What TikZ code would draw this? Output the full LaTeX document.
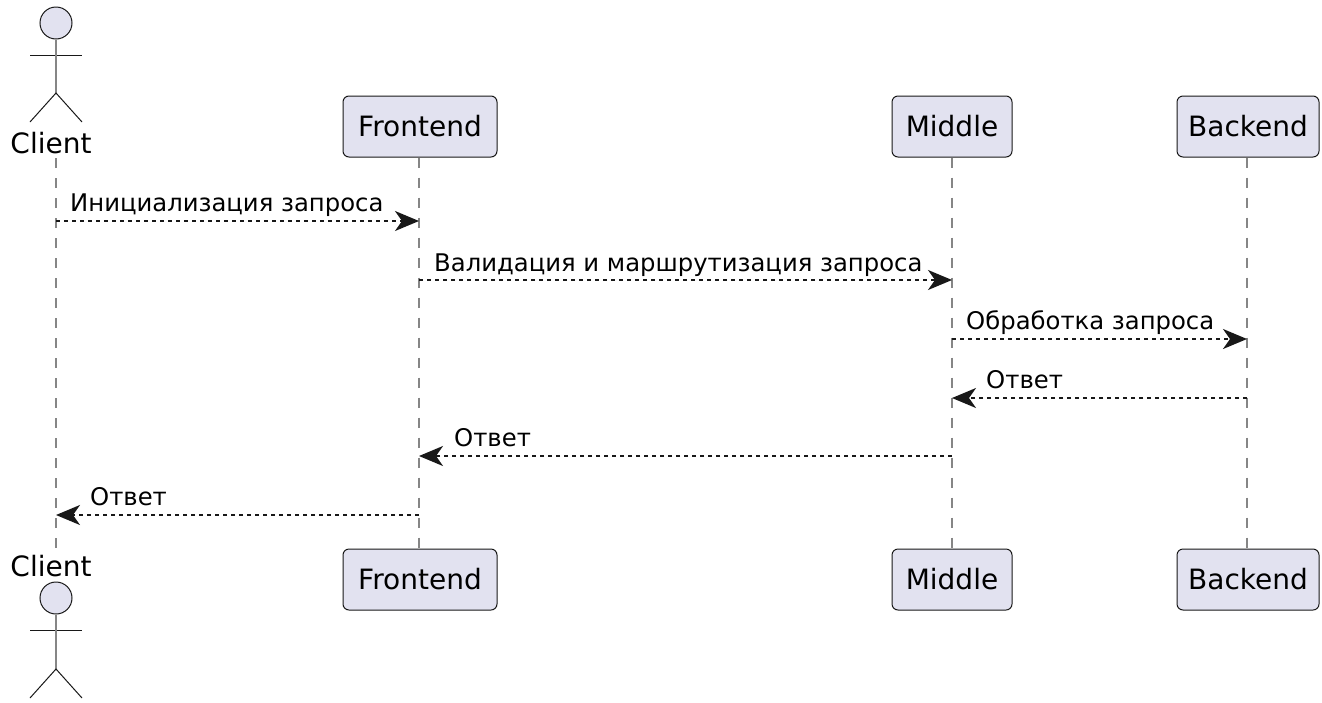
\documentclass[tikz,border=0pt]{standalone}
\usepackage{fontspec}
\setmainfont{DejaVu Sans}
\usetikzlibrary{arrows.meta}
\definecolor{partfill}{HTML}{E2E2F0}
\definecolor{ink}{HTML}{181818}
\definecolor{lifegray}{HTML}{868686}
\tikzset{
  pbox/.style={draw=ink,line width=1pt,fill=partfill,rounded corners=6pt,minimum height=61pt,inner sep=0pt,font=\fontsize{28}{30}\selectfont,text=black},
  actorname/.style={anchor=base,inner sep=0pt,font=\fontsize{28}{30}\selectfont,text=black},
  lifeline/.style={draw=lifegray,line width=2pt,dash pattern=on 10pt off 10pt},
  msg/.style={draw=ink,line width=2pt,dash pattern=on 4pt off 4pt,-{Stealth[length=24pt,width=20pt,inset=7pt,fill=ink]}},
  msglabel/.style={anchor=base west,inner sep=0pt,font=\fontsize{24.3}{28}\selectfont,text=black},
  actorhead/.style={circle,draw=ink,line width=1pt,fill=partfill,minimum size=32pt,inner sep=0pt},
  limb/.style={draw=ink,line width=1pt},
  spine/.style={draw=lifegray,line width=2pt}
}
\begin{document}
\begin{tikzpicture}[x=1pt,y=-1pt]
\useasboundingbox (0,0) rectangle (1322,702);
% lifeline anchors for the client
\coordinate (ctop) at (56,158);
\coordinate (cbot) at (56,548);
% participants
\node[pbox,minimum width=154pt] (ftop) at (420,126.5) {Frontend};
\node[pbox,minimum width=120pt] (mtop) at (952,126.5) {Middle};
\node[pbox,minimum width=142pt] (btop) at (1248,126.5) {Backend};
\node[pbox,minimum width=154pt] (fbot) at (420,579.5) {Frontend};
\node[pbox,minimum width=120pt] (mbot) at (952,579.5) {Middle};
\node[pbox,minimum width=142pt] (bbot) at (1248,579.5) {Backend};
% lifelines
\draw[lifeline] (ctop) -- (cbot);
\draw[lifeline] ([xshift=-1pt]ftop.south) -- ([xshift=-1pt]fbot.north);
\draw[lifeline] (mtop.south) -- (mbot.north);
\draw[lifeline] ([xshift=-1pt]btop.south) -- ([xshift=-1pt]bbot.north);
% actors
\node[actorhead] (headtop) at (56,23) {};
\draw[limb] (30,55) -- (82,55);
\draw[spine] (headtop.south) -- (56,93);
\draw[limb] (30,122) -- (56,93) -- (82,122);
\node[actorname] (nametop) at (51,153) {Client};
\node[actorhead] (headbot) at (56,598) {};
\draw[limb] (30,630) -- (82,630);
\draw[spine] (headbot.south) -- (56,669);
\draw[limb] (30,698) -- (56,669) -- (82,698);
\node[actorname] (namebot) at (51,576) {Client};
% message end points on the lifelines
\foreach \n/\y in {1/221,2/280,3/339,4/398,5/456,6/515}{
  \coordinate (c\n) at (56,\y);
  \coordinate (f\n) at (419,\y);
  \coordinate (m\n) at (952,\y);
  \coordinate (b\n) at (1247,\y);
}
% messages
\draw[msg] (c1) -- (f1);
\node[msglabel] (l1) at (70,211) {Инициализация запроса};
\draw[msg] (f2) -- (m2);
\node[msglabel] (l2) at (434,271) {Валидация и маршрутизация запроса};
\draw[msg] (m3) -- (b3);
\node[msglabel] (l3) at (966,329) {Обработка запроса};
\draw[msg] (b4) -- (m4);
\node[msglabel] (l4) at (986,388) {Ответ};
\draw[msg] (m5) -- (f5);
\node[msglabel] (l5) at (454,446) {Ответ};
\draw[msg] (f6) -- (c6);
\node[msglabel] (l6) at (90,505) {Ответ};
\end{tikzpicture}
\end{document}
